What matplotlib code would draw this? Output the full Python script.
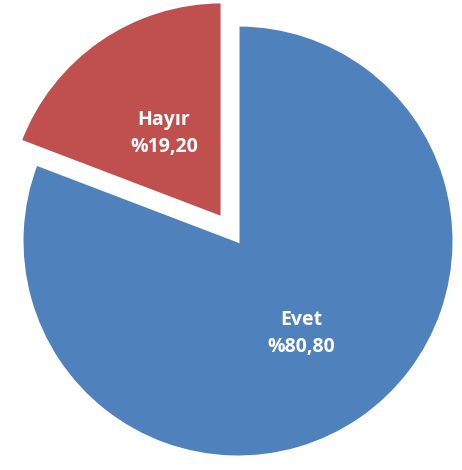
import numpy as np
import matplotlib
matplotlib.use("Agg")
import matplotlib.pyplot as plt

categories = ["Evet", "Hayır"]
values = [80.80, 19.20]
value_labels = ["%80,80", "%19,20"]
colors = ["#4F81BD", "#C0504D"]
explode = [0.0, 0.13]
label_dist = [0.52, 0.475]

W, H = 462, 470
fig = plt.figure(figsize=(W / 100, H / 100), dpi=100)
ax = fig.add_axes([0, 0, 1, 1])
cx, cy, R = 238, 241, 216

wedges, _ = ax.pie(values, colors=colors, explode=explode, startangle=90,
                   counterclock=False, radius=1.0,
                   wedgeprops=dict(edgecolor="white", linewidth=2.2))
for w, name, lab, d in zip(wedges, categories, value_labels, label_dist):
    mid = np.deg2rad((w.theta1 + w.theta2) / 2)
    x = w.center[0] + d * np.cos(mid)
    y = w.center[1] + d * np.sin(mid)
    ax.text(x, y, f"{name}\n{lab}", ha="center", va="center", color="white",
            fontsize=14, fontweight="bold", family="Open Sans", linespacing=1.5)

ax.set_xlim(-cx / R, (W - cx) / R)
ax.set_ylim(-(H - cy) / R, cy / R)
ax.set_aspect("auto")
ax.axis("off")
fig.savefig("out.png", dpi=100)
